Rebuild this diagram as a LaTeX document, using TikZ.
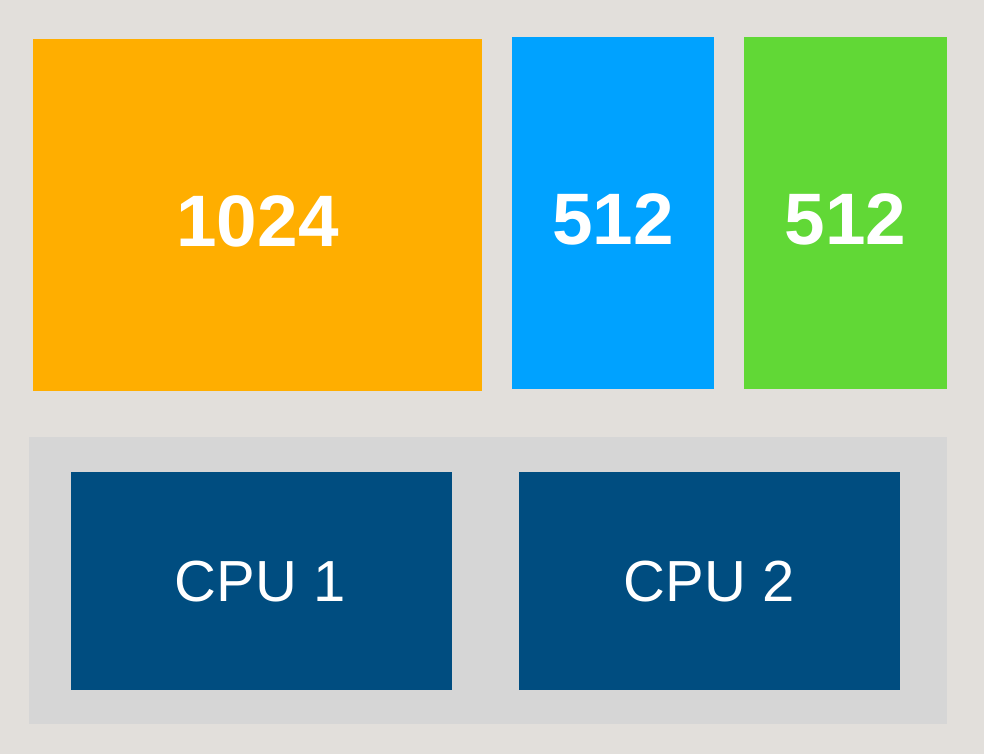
\documentclass[tikz,border=0pt]{standalone}
\usepackage{fontspec}
\setmainfont{Liberation Sans}
\usepackage{xcolor}

\definecolor{bgwarm}{HTML}{E2DFDB}
\definecolor{panelgray}{HTML}{D6D6D6}
\definecolor{memorange}{HTML}{FFAE00}
\definecolor{memblue}{HTML}{00A2FF}
\definecolor{memgreen}{HTML}{61D836}
\definecolor{cpublue}{HTML}{004D80}

\begin{document}
\begin{tikzpicture}[x=0.02cm,y=-0.02cm,every node/.style={text=white}]
\tikzset{
  memlabel/.style={font=\fontsize{41.5}{50}\selectfont\bfseries},
  cpulabel/.style={font=\fontsize{33}{40}\selectfont}
}
\fill[bgwarm] (0,0) rectangle (984,754);
\useasboundingbox (0,0) rectangle (984,754);
% memory blocks
\fill[memorange] (33,39) rectangle (482,391);
\node[memlabel] (mem1) at (257.5,221) {1024};
\fill[memblue] (512,37) rectangle (714,389);
\node[memlabel] (mem2) at (613,219) {512};
\fill[memgreen] (744,37) rectangle (947,389);
\node[memlabel] (mem3) at (845.5,219) {512};
% cpu panel
\fill[panelgray] (29,437) rectangle (947,724);
\fill[cpublue] (71,472) rectangle (452,690);
\node[cpulabel] (cpu1) at (260,582) {CPU 1};
\fill[cpublue] (519,472) rectangle (900,690);
\node[cpulabel] (cpu2) at (709,582) {CPU 2};
\end{tikzpicture}
\end{document}
